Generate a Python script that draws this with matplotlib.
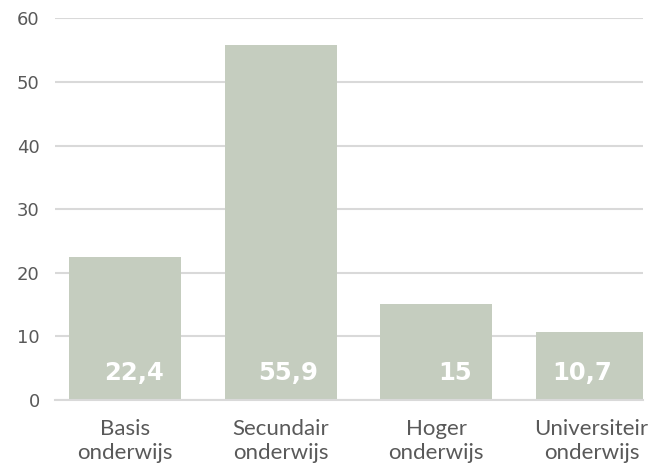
import matplotlib.pyplot as plt
import numpy as np

# Onderwijsniveau (percentages)
categories = ["Basis\nonderwijs", "Secundair\nonderwijs", "Hoger\nonderwijs", "Universiteir\nonderwijs"]
values = [22.4, 55.9, 15, 10.7]
value_labels = ["22,4", "55,9", "15", "10,7"]
yticks = [0, 10, 20, 30, 40, 50, 60]

# small horizontal nudges for the value labels inside the bars
label_dx = [0.055, 0.05, 0.12, -0.06]

bar_color = "#c5cdbf"
text_gray = "#595959"
grid_gray = "#d9d9d9"

fig = plt.figure(figsize=(6.48, 4.67), dpi=100)
ax = fig.add_axes([0.0849, 0.1445, 0.9074, 0.8159])

x = np.arange(len(categories))
ax.bar(x, values, width=0.72, color=bar_color, zorder=2)

for xi, v, lab, dx in zip(x, values, value_labels, label_dx):
    ax.text(xi + dx, 4.1, lab, ha="center", va="center", color="white",
            fontsize=17.5, fontweight="bold", family="DejaVu Sans", zorder=3)

ax.set_xlim(-0.45, 3.33)
ax.set_ylim(0, 60)
ax.set_yticks(yticks)
ax.set_yticklabels([str(t) for t in yticks], fontsize=13, color=text_gray)
ax.yaxis.grid(True, color=grid_gray, linewidth=1.5, zorder=0)
ax.set_axisbelow(True)

ax.set_xticks(x)
ax.set_xticklabels(categories, fontsize=16, color=text_gray, family="Lato",
                   fontweight="normal", linespacing=1.25)
ax.tick_params(axis="both", length=0)
ax.tick_params(axis="y", pad=11)
ax.tick_params(axis="x", pad=14)

for side in ["top", "right", "left"]:
    ax.spines[side].set_visible(False)
ax.spines["bottom"].set_color(grid_gray)
ax.spines["bottom"].set_linewidth(1.5)

fig.savefig("out.png", dpi=100)
